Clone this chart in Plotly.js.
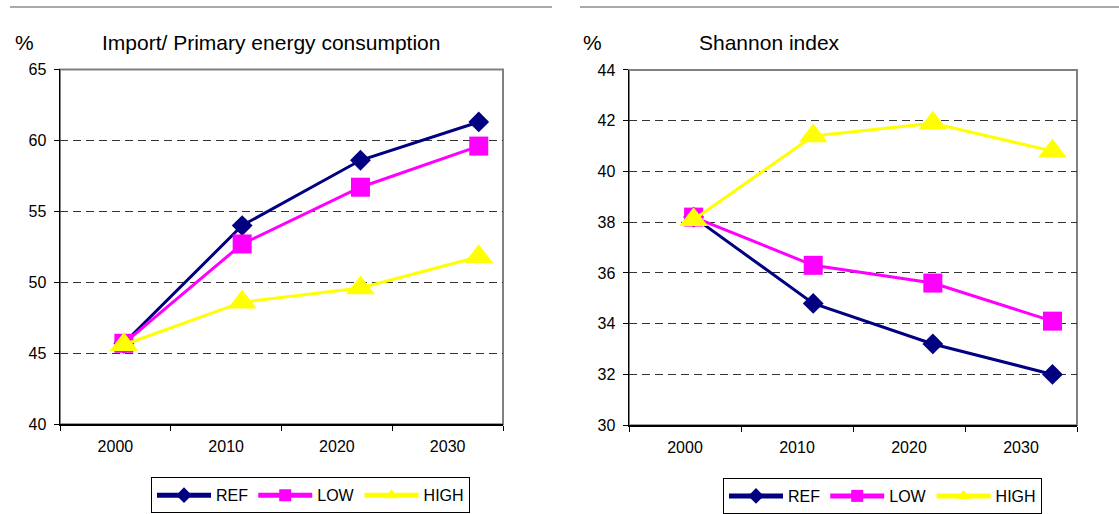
<!DOCTYPE html>
<html>
<head>
<meta charset="utf-8">
<script src="https://cdn.plot.ly/plotly-3.0.1.min.js"></script>
<style>
  html, body { margin: 0; padding: 0; background: #ffffff; }
  #chart { width: 1119px; height: 514px; }
</style>
</head>
<body>
<div id="chart"></div>
<script>
// ---- Data ----
const years = [2000, 2010, 2020, 2030];
const tickLabels = ['2000', '2010', '2020', '2030'];
const seriesNames = ['REF', 'LOW', 'HIGH'];

const importRef  = [45.7, 54.0, 58.6, 61.3];
const importLow  = [45.7, 52.7, 56.7, 59.6];
const importHigh = [45.6, 48.6, 49.6, 51.8];

const shannonRef  = [38.2, 34.8, 33.2, 32.0];
const shannonLow  = [38.2, 36.3, 35.6, 34.1];
const shannonHigh = [38.1, 41.4, 41.9, 40.8];

const leftTitle = 'Import/ Primary energy consumption';
const rightTitle = 'Shannon index';
const unitLabel = '%';

// ---- Styling ----
const W = 1119, H = 514;
const FONT = 'Liberation Sans, Arial, sans-serif';
const colors = ['#000080', '#FF00FF', '#FFFF00'];
const symbols = ['diamond', 'square', 'triangle-up'];
const sizes = [16, 19, 25];

const xRange = [1994.6, 2032.05];
const nBands = tickLabels.length;
const bandW = (xRange[1] - xRange[0]) / nBands;
const bandEdges = [];
for (let i = 0; i <= nBands; i++) bandEdges.push(xRange[0] + i * bandW);
const bandCenters = tickLabels.map((_, i) => xRange[0] + (i + 0.5) * bandW);

function mk(yvals, i, xa, ya, lg) {
  return {
    x: years, y: yvals, type: 'scatter', mode: 'lines+markers',
    name: seriesNames[i], xaxis: xa, yaxis: ya, legend: lg,
    line: { color: colors[i], width: 3 },
    marker: { color: colors[i], symbol: symbols[i], size: sizes[i], line: { width: 0 } },
    cliponaxis: false
  };
}

const data = [
  mk(importRef, 0, 'x', 'y', 'legend'),
  mk(importLow, 1, 'x', 'y', 'legend'),
  mk(importHigh, 2, 'x', 'y', 'legend'),
  mk(shannonRef, 0, 'x2', 'y2', 'legend2'),
  mk(shannonLow, 1, 'x2', 'y2', 'legend2'),
  mk(shannonHigh, 2, 'x2', 'y2', 'legend2')
];

function xax(domain) {
  return {
    domain: domain, range: xRange, fixedrange: true,
    tickmode: 'array', tickvals: bandCenters, ticktext: tickLabels,
    ticks: '', showgrid: false, zeroline: false,
    showline: true, linecolor: '#000000', linewidth: 1.5,
    tickfont: { family: FONT, size: 16, color: '#000' },
    ticklabelstandoff: 7,
    minor: { tickmode: 'array', tickvals: bandEdges, ticks: 'outside', ticklen: 5, tickwidth: 1, tickcolor: '#000', showgrid: false }
  };
}
function yax(domain, range, dtick, anchor) {
  return {
    domain: domain, range: range, dtick: dtick, tick0: range[0], fixedrange: true,
    anchor: anchor,
    ticks: 'outside', ticklen: 5, tickwidth: 1, tickcolor: '#000',
    showline: true, linecolor: '#000000', linewidth: 1.5,
    showgrid: true, gridcolor: '#333333', gridwidth: 1, griddash: '8px,5px',
    zeroline: false,
    tickfont: { family: FONT, size: 16, color: '#000' },
    ticklabelstandoff: 4
  };
}

const yDom = [1 - 427.5 / H, 1 - 70 / H];
const yDom2 = [1 - 428.5 / H, 1 - 70.5 / H];

const legendBase = {
  xanchor: 'left', yanchor: 'top',
  orientation: 'h', bgcolor: '#ffffff', bordercolor: '#000000', borderwidth: 1,
  font: { family: FONT, size: 16, color: '#000' },
  itemwidth: 54, itemsizing: 'constant', traceorder: 'normal'
};

const layout = {
  width: W, height: H,
  margin: { l: 0, r: 0, t: 0, b: 0, pad: 0 },
  paper_bgcolor: '#ffffff', plot_bgcolor: '#ffffff',
  font: { family: FONT, color: '#000' },
  showlegend: true,
  hovermode: false,
  xaxis: Object.assign(xax([60 / W, 503 / W]), { anchor: 'y' }),
  yaxis: yax(yDom, [40, 65], 5, 'x'),
  xaxis2: Object.assign(xax([629 / W, 1077 / W]), { anchor: 'y2' }),
  yaxis2: yax(yDom2, [30, 44], 2, 'x2'),
  legend: Object.assign({ x: 151 / W, y: 1 - 481 / H }, legendBase),
  legend2: Object.assign({ x: 723 / W, y: 1 - 482 / H }, legendBase),
  shapes: [
    { type: 'line', xref: 'paper', yref: 'paper', x0: 10 / W, x1: 552 / W, y0: 1 - 7 / H, y1: 1 - 7 / H, line: { color: '#8c8c8c', width: 1.5 } },
    { type: 'line', xref: 'paper', yref: 'paper', x0: 580 / W, x1: 1, y0: 1 - 7 / H, y1: 1 - 7 / H, line: { color: '#8c8c8c', width: 1.5 } },
    { type: 'rect', xref: 'x domain', yref: 'y domain', x0: 0, x1: 1, y0: 0, y1: 1, line: { color: '#808080', width: 2 }, layer: 'below' },
    { type: 'rect', xref: 'x2 domain', yref: 'y2 domain', x0: 0, x1: 1, y0: 0, y1: 1, line: { color: '#808080', width: 2 }, layer: 'below' }
  ],
  annotations: [
    { text: unitLabel, xref: 'paper', yref: 'paper', x: 13 / W, y: 1 - 42.5 / H, xanchor: 'left', yanchor: 'middle', showarrow: false, font: { family: FONT, size: 21, color: '#000' } },
    { text: leftTitle, xref: 'paper', yref: 'paper', x: 100 / W, y: 1 - 42.5 / H, xanchor: 'left', yanchor: 'middle', showarrow: false, font: { family: FONT, size: 21, color: '#000' } },
    { text: unitLabel, xref: 'paper', yref: 'paper', x: 581 / W, y: 1 - 42.5 / H, xanchor: 'left', yanchor: 'middle', showarrow: false, font: { family: FONT, size: 21, color: '#000' } },
    { text: rightTitle, xref: 'paper', yref: 'paper', x: 697 / W, y: 1 - 42.5 / H, xanchor: 'left', yanchor: 'middle', showarrow: false, font: { family: FONT, size: 21, color: '#000' } }
  ]
};

Plotly.newPlot('chart', data, layout, { staticPlot: true, displayModeBar: false });
</script>
</body>
</html>
